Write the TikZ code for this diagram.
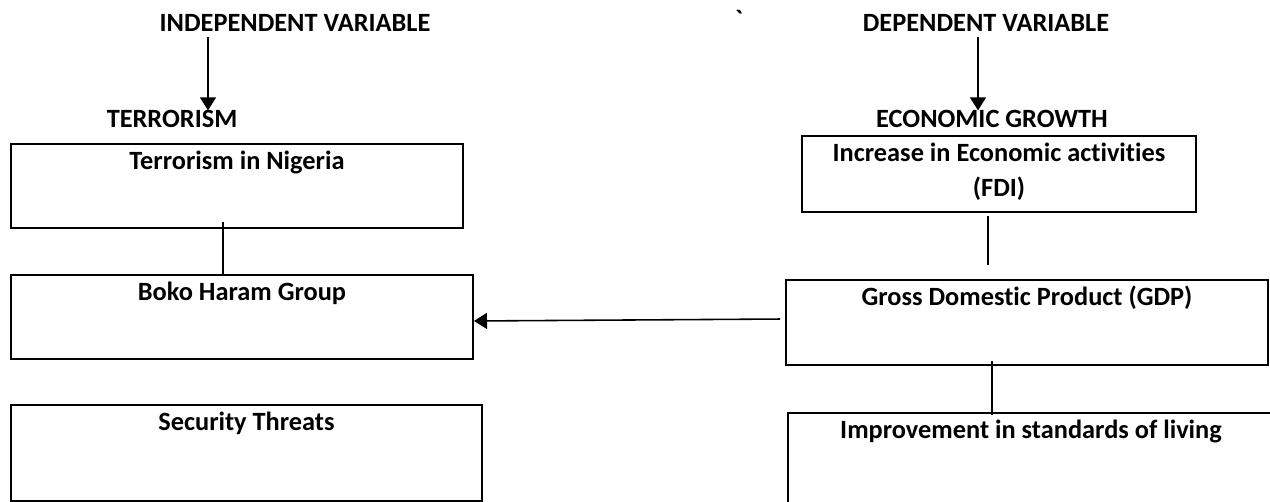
\documentclass[tikz,border=0pt]{standalone}
\usepackage{fontspec}
\setmainfont{Carlito}[Ligatures=NoCommon]
\newfontfamily\rawfont{Carlito}
\usetikzlibrary{arrows.meta}

\begin{document}
\begin{tikzpicture}[x=0.02cm, y=-0.02cm,
  box/.style={draw, line width=1.2pt, inner sep=0pt},
  head/.style={anchor=base, inner sep=0pt, font=\bfseries\fontsize{15}{17}\selectfont},
  boxtext/.style={anchor=base, yshift=-0.53cm, inner sep=0pt, align=center,
    font=\bfseries\fontsize{15}{20}\selectfont},
  link/.style={line width=0.9pt},
  arr/.style={line width=0.9pt, -{Triangle[length=0.26cm, width=0.32cm]}}]

  \clip (0,0) rectangle (1270,502);
  \fill[white] (0,0) rectangle (1270,502);

  \coordinate (la) at (208,0);   % left arrow
  \coordinate (ra) at (978,0);   % right arrow
  \coordinate (lk) at (223,0);   % left link
  \coordinate (rk) at (988,0);   % FDI -- GDP
  \coordinate (rl) at (992,0);   % GDP -- living

  % headings
  \node[head] (indep)  at (295,31.7) {INDEPENDENT VARIABLE};
  \node[head] (terror) at (172,128)  {TERRORISM};
  \node[head] (dep)    at (986,31.7) {DEPENDENT VARIABLE};
  \node[head] (growth) at (992,128)  {ECONOMIC GROWTH};
  \node[head] (tick)   at (739,29)   {\rawfont `};

  % left column
  \node[box, minimum width=9.04cm, minimum height=1.68cm,
    label={[boxtext]north:Terrorism in Nigeria}] (nigeria) at (237,186) {};
  \node[box, minimum width=9.24cm, minimum height=1.68cm,
    label={[boxtext]north:Boko Haram Group}] (boko) at (242,317) {};
  \node[box, minimum width=9.42cm, minimum height=1.92cm,
    label={[boxtext]north:Security Threats}] (threats) at (246.5,453) {};

  % right column (base of a two-line label is its last line)
  \node[box, minimum width=7.88cm, minimum height=1.52cm,
    label={[boxtext, yshift=-20pt]north:Increase in Economic activities\\(FDI)}] (fdi) at (999,174) {};
  \node[box, minimum width=9.64cm, minimum height=1.7cm,
    label={[boxtext]north:Gross Domestic Product (GDP)}] (gdp) at (1027,322.5) {};
  \node[box, minimum width=9.72cm, minimum height=1.84cm,
    label={[boxtext]north:Improvement in standards of living}] (living) at (1031,459) {};

  % arrows and links
  \draw[arr, shorten <=0.1cm] (indep.south -| la) -- (terror.north -| la);
  \draw[arr, shorten <=0.1cm] (dep.south -| ra) -- (growth.north -| ra);
  \draw[link, shorten <=-0.14cm] (nigeria.south -| lk) -- (boko.north -| lk);
  \draw[link, shorten <=0.06cm, shorten >=0.28cm] (fdi.south -| rk) -- (gdp.north -| rk);
  \draw[arr, shorten <=0.1cm] ([yshift=0.07cm]gdp.west) -- ([yshift=-0.08cm]boko.east);
  \draw[link, shorten <=-0.1cm, shorten >=-0.06cm] (gdp.south -| rl) -- (living.north -| rl);
\end{tikzpicture}
\end{document}
